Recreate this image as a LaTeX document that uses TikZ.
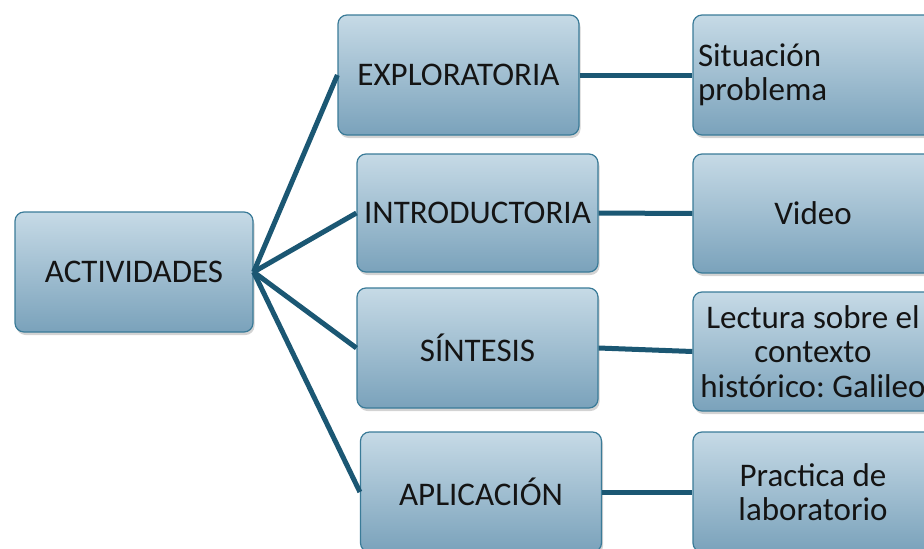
\documentclass[tikz,border=0pt]{standalone}
\usepackage{fontspec}
\setmainfont{Carlito}
\usetikzlibrary{shadows}
\definecolor{boxtop}{HTML}{C6DAE6}
\definecolor{boxbot}{HTML}{7AA2BB}
\definecolor{boxline}{HTML}{3A7B98}
\definecolor{conn}{HTML}{1B5773}
\tikzset{
  box/.style={draw=boxline, line width=1.2pt, rounded corners=9pt,
    top color=boxtop, bottom color=boxbot,
    drop shadow={opacity=0.35, shadow xshift=1.5pt, shadow yshift=-3pt},
    minimum height=120pt, inner xsep=5pt, inner ysep=0pt,
    font=\fontsize{33}{34.5}\selectfont\frenchspacing, text=black!92},
  leftbox/.style={box, minimum width=241pt},
  rightbox/.style={box, minimum width=240pt, align=center},
  link/.style={draw=conn, line width=5pt}
}
\begin{document}
\begin{tikzpicture}[x=1pt,y=-1pt]
\useasboundingbox (0,0) rectangle (924,549);
\clip (0,0) rectangle (924,549);
\node[box, minimum width=238pt] (act) at (134,272) {ACTIVIDADES};
\node[leftbox] (exp) at (458.5,75) {EXPLORATORIA};
\node[leftbox, minimum height=118pt] (int) at (477.5,213) {INTRODUCTORIA};
\node[leftbox] (sin) at (477.5,348) {SÍNTESIS};
\node[leftbox] (apl) at (481,492) {APLICACIÓN};
\node[rightbox, text width=230pt, align=left] (r1) at (813,75) {Situación\\problema};
\node[rightbox, minimum height=119pt] (r2) at (813,213.5) {Video};
\node[rightbox, minimum height=119pt] (r3) at (813,351.5) {Lectura sobre el\\contexto\\histórico: Galileo};
\node[rightbox] (r4) at (813,492) {Practica de\\laboratorio};
\draw[link] (act.east) -- (exp.west);
\draw[link] (act.east) -- (int.west);
\draw[link] (act.east) -- (sin.west);
\draw[link] (act.east) -- (apl.west);
\draw[link] (exp.east) -- (r1.west);
\draw[link] (int.east) -- (r2.west);
\draw[link] (sin.east) -- (r3.west);
\draw[link] (apl.east) -- (r4.west);
\end{tikzpicture}
\end{document}
